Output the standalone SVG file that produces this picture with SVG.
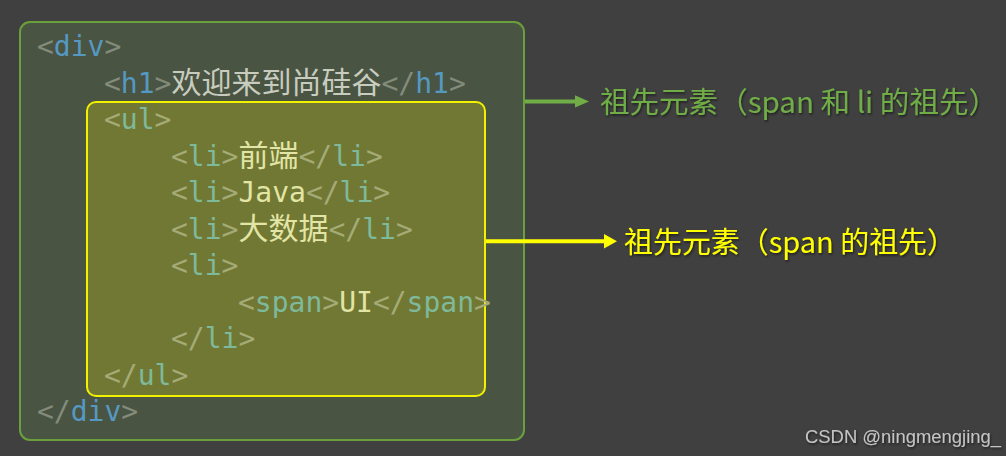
<svg xmlns="http://www.w3.org/2000/svg" width="1006" height="456" viewBox="0 0 1006 456">
<defs>
<filter id="sh" x="-5%" y="-20%" width="110%" height="140%">
<feDropShadow dx="1" dy="1.5" stdDeviation="1" flood-color="#000" flood-opacity="0.55"/>
</filter>
<style>
.code{font-family:"DejaVu Sans Mono","Noto Sans CJK SC",monospace;font-size:28px}
.cjk{font-family:"Noto Sans CJK SC",sans-serif;font-size:30px}
.ob{fill:#838b7b}
.ot{fill:#5599c2}
.ox{fill:#c8ccbe}
.ib{fill:#a5ab77}
.it{fill:#7fb99b}
.ix{fill:#e2e5a6}
.lbl{font-family:"Noto Sans CJK SC","Noto Sans",sans-serif;font-size:29px}
</style>
</defs>
<rect x="0" y="0" width="1006" height="456" fill="#404040"/>
<g id="div-box">
<rect x="20" y="22" width="504" height="418" rx="10" fill="#4a5443" stroke="#6a9f3e" stroke-width="2"/>
</g>
<g id="ul-box">
<rect x="87" y="102" width="398" height="294" rx="9" fill="#717833" stroke="#f2f200" stroke-width="2"/>
</g>
<g id="code">
<text class="code" x="37" y="56"><tspan class="ob">&lt;</tspan><tspan class="ot">div</tspan><tspan class="ob">&gt;</tspan></text>
<text class="code" x="104" y="92.5"><tspan class="ob">&lt;</tspan><tspan class="ot">h1</tspan><tspan class="ob">&gt;</tspan><tspan class="cjk ox">欢迎来到尚硅谷</tspan><tspan class="ob">&lt;/</tspan><tspan class="ot">h1</tspan><tspan class="ob">&gt;</tspan></text>
<text class="code" x="104" y="129"><tspan class="ib">&lt;</tspan><tspan class="it">ul</tspan><tspan class="ib">&gt;</tspan></text>
<text class="code" x="171" y="165.5"><tspan class="ib">&lt;</tspan><tspan class="it">li</tspan><tspan class="ib">&gt;</tspan><tspan class="cjk ix">前端</tspan><tspan class="ib">&lt;/</tspan><tspan class="it">li</tspan><tspan class="ib">&gt;</tspan></text>
<text class="code" x="171" y="202"><tspan class="ib">&lt;</tspan><tspan class="it">li</tspan><tspan class="ib">&gt;</tspan><tspan class="ix">Java</tspan><tspan class="ib">&lt;/</tspan><tspan class="it">li</tspan><tspan class="ib">&gt;</tspan></text>
<text class="code" x="171" y="238.5"><tspan class="ib">&lt;</tspan><tspan class="it">li</tspan><tspan class="ib">&gt;</tspan><tspan class="cjk ix">大数据</tspan><tspan class="ib">&lt;/</tspan><tspan class="it">li</tspan><tspan class="ib">&gt;</tspan></text>
<text class="code" x="171" y="275"><tspan class="ib">&lt;</tspan><tspan class="it">li</tspan><tspan class="ib">&gt;</tspan></text>
<text class="code" x="238" y="311.5"><tspan class="ib">&lt;</tspan><tspan class="it">span</tspan><tspan class="ib">&gt;</tspan><tspan class="ix">UI</tspan><tspan class="ib">&lt;/</tspan><tspan class="it">span</tspan><tspan class="ib">&gt;</tspan></text>
<text class="code" x="171" y="348"><tspan class="ib">&lt;/</tspan><tspan class="it">li</tspan><tspan class="ib">&gt;</tspan></text>
<text class="code" x="104" y="384.5"><tspan class="ib">&lt;/</tspan><tspan class="it">ul</tspan><tspan class="ib">&gt;</tspan></text>
<text class="code" x="37" y="421"><tspan class="ob">&lt;/</tspan><tspan class="ot">div</tspan><tspan class="ob">&gt;</tspan></text>
</g>
<g id="connectors">
<line x1="525" y1="101.5" x2="578" y2="101.5" stroke="#70ad47" stroke-width="4"/>
<polygon points="575,95.3 589,101.5 575,107.5" fill="#70ad47"/>
<line x1="486" y1="241.3" x2="606" y2="241.3" stroke="#ffff00" stroke-width="4"/>
<polygon points="604,234 617,241.3 604,248.6" fill="#ffff00"/>
</g>
<g id="label-green">
<text class="lbl" x="600" y="113" fill="#70ad47" filter="url(#sh)" textLength="398" lengthAdjust="spacingAndGlyphs">祖先元素（span 和 li 的祖先）</text>
</g>
<g id="label-yellow">
<text class="lbl" x="624" y="253" fill="#ffff00" filter="url(#sh)" textLength="332" lengthAdjust="spacingAndGlyphs">祖先元素（span 的祖先）</text>
</g>
<text x="805" y="443" font-family="Liberation Sans, Arial, sans-serif" font-size="18" fill="#c4c4c4" filter="url(#sh)" textLength="196" lengthAdjust="spacingAndGlyphs">CSDN @ningmengjing_</text>
</svg>
